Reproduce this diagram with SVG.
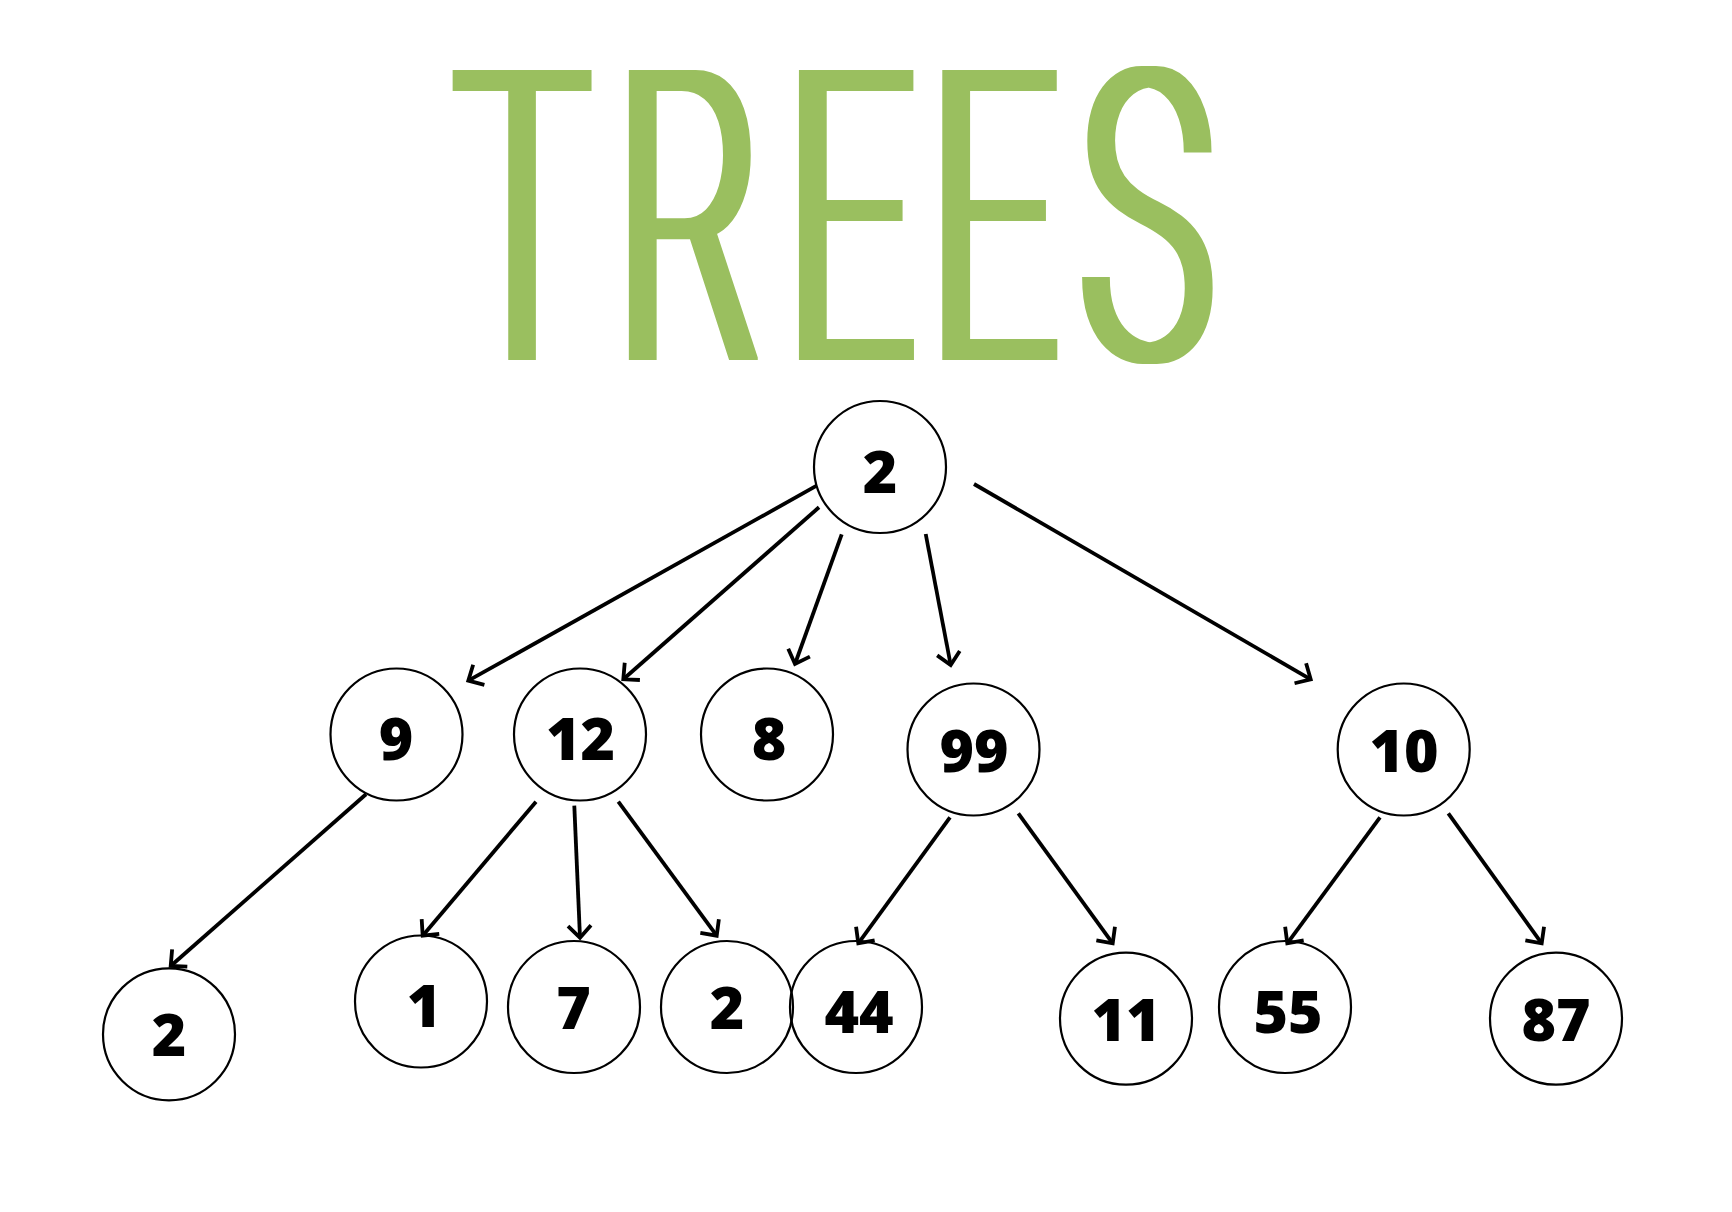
<svg xmlns="http://www.w3.org/2000/svg" width="1732" height="1212" viewBox="0 0 1732 1212">
<defs>
<style>
.node circle{fill:none;stroke:#000;stroke-width:2.2}
.node text{font-family:"Open Sans","Noto Sans","DejaVu Sans",sans-serif;font-weight:800;font-size:59px;fill:#000;text-anchor:middle}
.edge{stroke:#000;stroke-width:3.8;fill:none;marker-end:url(#arr)}
.title{font-family:Roboto,"Open Sans","Liberation Sans",sans-serif;font-weight:300;font-size:408px;fill:#9ABF5E}
</style>
<marker id="arr" markerUnits="userSpaceOnUse" orient="auto" refX="0" refY="0" markerWidth="30" markerHeight="30" overflow="visible">
<path d="M-12,-11.5 L0,0 L-12,11.5" fill="none" stroke="#000" stroke-width="3.8"/>
</marker>
<filter id="thick" x="-10%" y="-10%" width="120%" height="120%">
<feMorphology operator="dilate" radius="6.5 0"/>
</filter>
</defs>
<rect width="1732" height="1212" fill="#fff"/>
<g id="title" filter="url(#thick)">
<text class="title" transform="translate(454,360) scale(0.56,1)" x="-0.4 288.5 591.7 847.7 1116.5" y="0">TREES</text>
</g>
<g id="connectors">
<line class="edge" x1="816.7" y1="485.7" x2="468.3" y2="680.7"/>
<line class="edge" x1="819" y1="507.3" x2="623.3" y2="679.3"/>
<line class="edge" x1="841.7" y1="534.3" x2="795" y2="664"/>
<line class="edge" x1="925.7" y1="534" x2="950.7" y2="665"/>
<line class="edge" x1="974" y1="484" x2="1310.7" y2="679.3"/>
<line class="edge" x1="366" y1="794.3" x2="170.7" y2="966"/>
<line class="edge" x1="536" y1="801.7" x2="422.7" y2="935.7"/>
<line class="edge" x1="574.3" y1="805.7" x2="580" y2="937.7"/>
<line class="edge" x1="618.3" y1="801.7" x2="716.7" y2="935.7"/>
<line class="edge" x1="950" y1="817.3" x2="858.3" y2="943.3"/>
<line class="edge" x1="1018.3" y1="813.3" x2="1112.7" y2="943.3"/>
<line class="edge" x1="1380" y1="817.3" x2="1287.3" y2="943.3"/>
<line class="edge" x1="1448.3" y1="813.3" x2="1541.7" y2="943.3"/>
</g>
<g id="n-root" class="node"><circle cx="880" cy="467" r="66"/><text x="880" y="492.7">2</text></g>
<g id="n-9" class="node"><circle cx="396.5" cy="734.5" r="66"/><text x="396" y="760">9</text></g>
<g id="n-12" class="node"><circle cx="580" cy="734.5" r="66"/><text x="580.5" y="760">12</text></g>
<g id="n-8" class="node"><circle cx="767" cy="734.5" r="66"/><text x="769" y="760">8</text></g>
<g id="n-99" class="node"><circle cx="973.5" cy="749.5" r="66"/><text x="974" y="772">99</text></g>
<g id="n-10" class="node"><circle cx="1403.7" cy="749.5" r="66"/><text x="1404" y="771.5">10</text></g>
<g id="n-2a" class="node"><circle cx="169" cy="1034.3" r="66"/><text x="169" y="1055.7">2</text></g>
<g id="n-1" class="node"><circle cx="421" cy="1001.5" r="66"/><text x="424" y="1027.3">1</text></g>
<g id="n-7" class="node"><circle cx="574" cy="1007" r="66"/><text x="573.5" y="1029">7</text></g>
<g id="n-2b" class="node"><circle cx="727" cy="1007" r="66"/><text x="727" y="1029">2</text></g>
<g id="n-44" class="node"><circle cx="856" cy="1007" r="66"/><text x="859" y="1033.3">44</text></g>
<g id="n-11" class="node"><circle cx="1126" cy="1018.7" r="66"/><text x="1126" y="1040.7">11</text></g>
<g id="n-55" class="node"><circle cx="1285" cy="1007" r="66"/><text x="1288" y="1033.3">55</text></g>
<g id="n-87" class="node"><circle cx="1556" cy="1018.7" r="66"/><text x="1556" y="1040.7">87</text></g>
</svg>
